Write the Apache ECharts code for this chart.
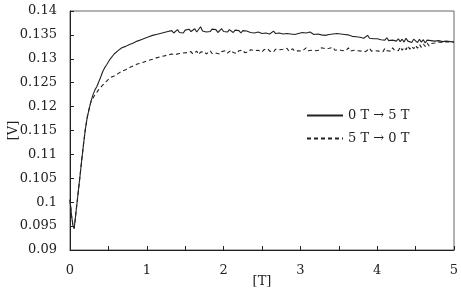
<!DOCTYPE html>
<html>
<head>
<meta charset="utf-8">
<script src="https://cdn.jsdelivr.net/npm/echarts@6/dist/echarts.min.js"></script>
<style>
  html, body { margin: 0; padding: 0; background: #fff; }
  #chart { width: 461px; height: 289px; }
</style>
</head>
<body>
<div id="chart"></div>
<script>
// field sweep start: both runs share the dip near 0 T
const headT = [0, 0.02, 0.04, 0.055, 0.08, 0.1, 0.125, 0.15, 0.175, 0.2, 0.225, 0.25, 0.275]
const headV = [0.1005, 0.0972, 0.0950, 0.0945, 0.0982, 0.1011, 0.1047, 0.1084, 0.1120, 0.1153, 0.1178, 0.1196, 0.1212]

// after ~0.3 T the two sweeps separate
const splitT = [0.3, 0.325, 0.35, 0.375, 0.4, 0.425, 0.45, 0.475]
const upSplitV = [0.1225, 0.1235, 0.1242, 0.1252, 0.1262, 0.1273, 0.1281, 0.1287]
const downSplitV = [0.1218, 0.1225, 0.1230, 0.1236, 0.1240, 0.1245, 0.1249, 0.1253]

// noisy plateau, sampled every 0.025 T from 0.5 T to 5 T
const tailStart = 0.5
const tailStep = 0.025
const upTailV = [
  0.1291, 0.1300, 0.1301, 0.1310, 0.1309, 0.1317, 0.1315, 0.1323, 0.1319, 0.1326,
  0.1324, 0.1330, 0.1327, 0.1333, 0.1331, 0.1337, 0.1334, 0.1340, 0.1336, 0.1343,
  0.1340, 0.1346, 0.1343, 0.1349, 0.1345, 0.1351, 0.1347, 0.1353, 0.1350, 0.1355,
  0.1351, 0.1357, 0.1353, 0.1359, 0.1354, 0.1356, 0.1361, 0.1355, 0.1358, 0.1354,
  0.1360, 0.1356, 0.1362, 0.1357, 0.1359, 0.1363, 0.1356, 0.1360, 0.1367, 0.1358,
  0.1361, 0.1356, 0.1360, 0.1357, 0.1362, 0.1358, 0.1361, 0.1355, 0.1359, 0.1363,
  0.1357, 0.1360, 0.1356, 0.1361, 0.1358, 0.1355, 0.1360, 0.1357, 0.1359, 0.1354,
  0.1359, 0.1355, 0.1358, 0.1362, 0.1355, 0.1357, 0.1354, 0.1358, 0.1356, 0.1359,
  0.1353, 0.1357, 0.1354, 0.1356, 0.1352, 0.1355, 0.1358, 0.1353, 0.1356, 0.1354,
  0.1356, 0.1352, 0.1355, 0.1353, 0.1357, 0.1352, 0.1354, 0.1351, 0.1355, 0.1353,
  0.1351, 0.1355, 0.1352, 0.1354, 0.1350, 0.1356, 0.1353, 0.1351, 0.1354, 0.1352,
  0.1354, 0.1350, 0.1352, 0.1349, 0.1353, 0.1351, 0.1348, 0.1352, 0.1350, 0.1353,
  0.1349, 0.1352, 0.1348, 0.1351, 0.1347, 0.1350, 0.1352, 0.1347, 0.1349, 0.1346,
  0.1348, 0.1345, 0.1347, 0.1343, 0.1346, 0.1349, 0.1343, 0.1345, 0.1342, 0.1346,
  0.1342, 0.1345, 0.1340, 0.1343, 0.1339, 0.1344, 0.1338, 0.1342, 0.1339, 0.1341,
  0.1337, 0.1342, 0.1336, 0.1341, 0.1335, 0.1343, 0.1337, 0.1340, 0.1334, 0.1341,
  0.1339, 0.1334, 0.1341, 0.1335, 0.1340, 0.1333, 0.1339, 0.1336, 0.1338, 0.1334,
  0.1337, 0.1335, 0.1338, 0.1334, 0.1336, 0.1333, 0.1337, 0.1335, 0.1336, 0.1334,
  0.1335
]
const downTailV = [
  0.1255, 0.1261, 0.1258, 0.1264, 0.1262, 0.1269, 0.1266, 0.1274, 0.1270, 0.1277,
  0.1276, 0.1282, 0.1279, 0.1285, 0.1282, 0.1289, 0.1286, 0.1291, 0.1288, 0.1294,
  0.1291, 0.1297, 0.1294, 0.1299, 0.1296, 0.1302, 0.1298, 0.1304, 0.1300, 0.1306,
  0.1302, 0.1308, 0.1304, 0.1310, 0.1306, 0.1309, 0.1305, 0.1311, 0.1307, 0.1312,
  0.1308, 0.1313, 0.1309, 0.1315, 0.1310, 0.1312, 0.1316, 0.1309, 0.1314, 0.1311,
  0.1315, 0.1310, 0.1313, 0.1317, 0.1311, 0.1314, 0.1312, 0.1316, 0.1310, 0.1315,
  0.1313, 0.1317, 0.1312, 0.1315, 0.1318, 0.1313, 0.1316, 0.1311, 0.1317, 0.1314,
  0.1318, 0.1313, 0.1316, 0.1314, 0.1319, 0.1315, 0.1317, 0.1313, 0.1318, 0.1316,
  0.1314, 0.1319, 0.1315, 0.1321, 0.1316, 0.1318, 0.1314, 0.1320, 0.1317, 0.1319,
  0.1315, 0.1320, 0.1317, 0.1322, 0.1316, 0.1319, 0.1321, 0.1316, 0.1320, 0.1317,
  0.1321, 0.1316, 0.1319, 0.1323, 0.1317, 0.1320, 0.1318, 0.1322, 0.1317, 0.1321,
  0.1318, 0.1323, 0.1319, 0.1321, 0.1317, 0.1322, 0.1320, 0.1324, 0.1318, 0.1321,
  0.1319, 0.1322, 0.1317, 0.1321, 0.1318, 0.1323, 0.1316, 0.1320, 0.1318, 0.1322,
  0.1317, 0.1321, 0.1316, 0.1320, 0.1315, 0.1319, 0.1322, 0.1316, 0.1320, 0.1317,
  0.1321, 0.1316, 0.1319, 0.1315, 0.1322, 0.1317, 0.1320, 0.1316, 0.1323, 0.1318,
  0.1322, 0.1317, 0.1325, 0.1318, 0.1324, 0.1319, 0.1327, 0.1320, 0.1326, 0.1321,
  0.1328, 0.1322, 0.1330, 0.1324, 0.1331, 0.1326, 0.1333, 0.1327, 0.1332, 0.1329,
  0.1333, 0.1330, 0.1335, 0.1331, 0.1334, 0.1332, 0.1336, 0.1333, 0.1335, 0.1334,
  0.1335
]

const seriesNames = ['0 T \u2192 5 T', '5 T \u2192 0 T']

function buildRun(splitV, tailV) {
  const pts = headT.map((t, i) => [t, headV[i]])
  splitT.forEach((t, i) => pts.push([t, splitV[i]]))
  tailV.forEach((v, i) => pts.push([+(tailStart + i * tailStep).toFixed(3), v]))
  return pts
}

const font = 'DejaVu Serif'
const ink = '#222'

const chart = echarts.init(document.getElementById('chart'), null, { renderer: 'canvas' })
chart.setOption({
  backgroundColor: '#fff',
  animation: false,
  grid: {
    left: 70, right: 7, top: 11, bottom: 39,
    outerBoundsMode: 'none', containLabel: false,
    show: true, borderColor: '#666', borderWidth: 1,
  },
  legend: {
    orient: 'vertical',
    left: 301,
    top: 104,
    itemWidth: 36,
    itemHeight: 10,
    itemGap: 10,
    itemStyle: { opacity: 0 },
    textStyle: { fontFamily: font, fontSize: 13, color: ink },
    data: seriesNames,
  },
  xAxis: {
    type: 'value',
    min: 0,
    max: 5,
    interval: 0.5,
    name: '[T]',
    nameLocation: 'middle',
    nameGap: 25,
    nameMoveOverlap: false,
    nameTextStyle: { fontFamily: font, fontSize: 13, color: ink },
    axisLine: { lineStyle: { color: ink, width: 1 } },
    axisTick: { inside: true, length: 4, lineStyle: { color: ink } },
    axisLabel: {
      fontFamily: font, fontSize: 13, color: ink, margin: 14,
      formatter: (v) => (Math.abs(v - Math.round(v)) < 1e-6 ? String(Math.round(v)) : ''),
    },
    splitLine: { show: false },
  },
  yAxis: {
    type: 'value',
    min: 0.09,
    max: 0.14,
    interval: 0.005,
    name: '[V]',
    nameLocation: 'middle',
    nameGap: 50,
    nameMoveOverlap: false,
    nameTextStyle: { fontFamily: font, fontSize: 13, color: ink },
    axisLine: { show: true, lineStyle: { color: ink, width: 1 } },
    axisTick: { show: true, inside: true, length: 4, lineStyle: { color: ink } },
    axisLabel: {
      fontFamily: font, fontSize: 13, color: ink, margin: 13,
      formatter: (v) => String(+v.toFixed(3)),
    },
    splitLine: { show: false },
  },
  series: [
    {
      name: seriesNames[0],
      type: 'line',
      data: buildRun(upSplitV, upTailV),
      symbol: 'none',
      lineStyle: { color: ink, width: 1.1 },
      itemStyle: { color: ink },
      z: 3,
    },
    {
      name: seriesNames[1],
      type: 'line',
      data: buildRun(downSplitV, downTailV),
      symbol: 'none',
      lineStyle: { color: ink, width: 1.1, type: [4, 3] },
      itemStyle: { color: ink },
      z: 2,
    },
  ],
})
</script>
</body>
</html>
